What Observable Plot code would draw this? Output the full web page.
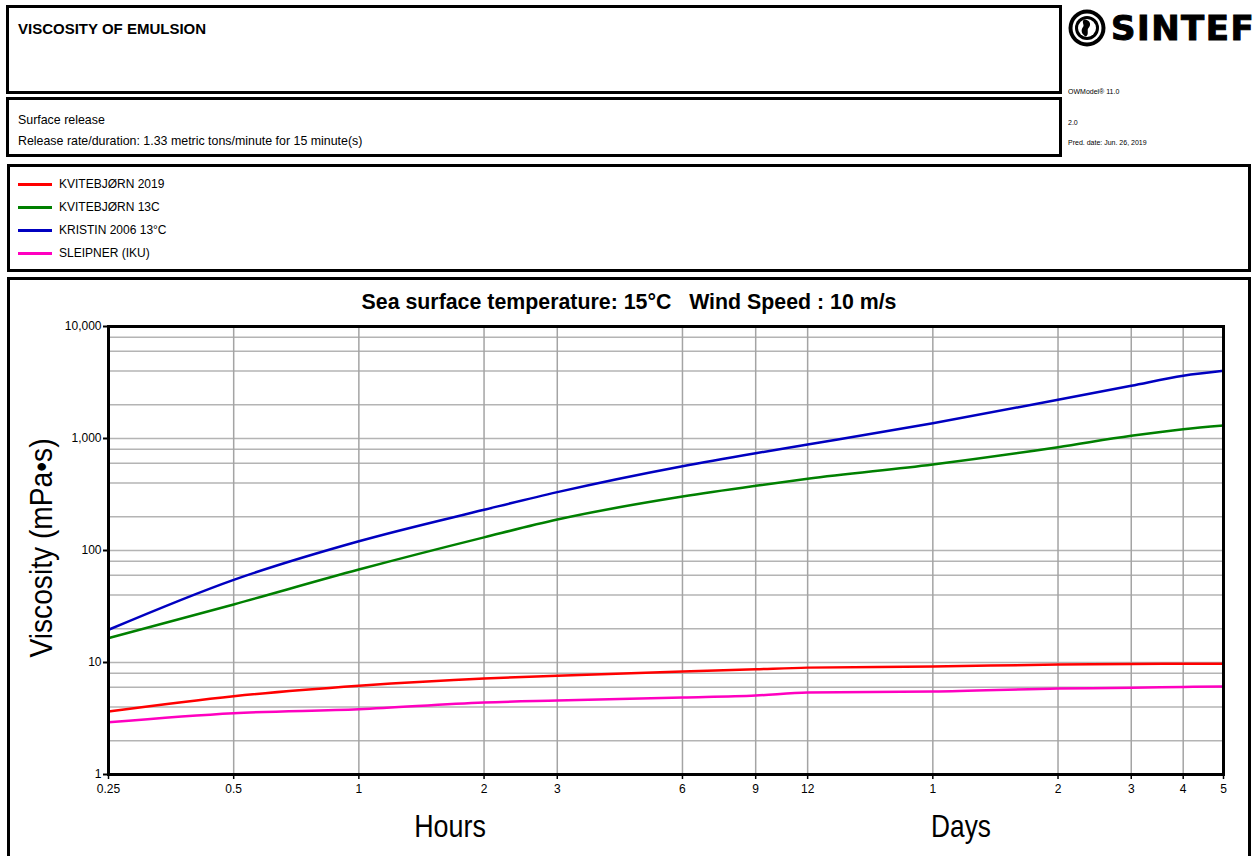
<!DOCTYPE html>
<html><head><meta charset="utf-8">
<script src="https://cdn.jsdelivr.net/npm/d3@7"></script>
<script src="https://cdn.jsdelivr.net/npm/@observablehq/plot@0.6"></script>
<style>
html,body{margin:0;padding:0;background:#fff;width:1254px;height:856px;overflow:hidden;font-family:"Liberation Sans",Arial,sans-serif;color:#000;}
.box{position:absolute;border:3px solid #000;box-sizing:border-box;}
.abs{position:absolute;white-space:pre;line-height:1;}
#chart{position:absolute;left:0;top:280px;}
</style></head>
<body>
<div class="box" style="left:6px;top:5px;width:1056px;height:89px"></div>
<div class="box" style="left:6px;top:97px;width:1056px;height:60px"></div>
<div class="box" style="left:7px;top:164px;width:1244px;height:108px"></div>
<div class="box" style="left:7px;top:277px;width:1244px;height:620px"></div>

<div class="abs" style="left:18px;top:21px;font-size:15px;font-weight:bold;">VISCOSITY OF EMULSION</div>
<div class="abs" style="left:18px;top:114px;font-size:12.4px;">Surface release</div>
<div class="abs" style="left:18px;top:135px;font-size:12.4px;">Release rate/duration: 1.33 metric tons/minute for 15 minute(s)</div>

<svg class="abs" style="left:1067px;top:8px" width="40" height="40" viewBox="0 0 40 40">
  <circle cx="20" cy="20" r="18.5" fill="#000"/>
  <circle cx="20" cy="20" r="14.5" fill="#fff"/>
  <circle cx="20" cy="20" r="12" fill="#000"/>
  <circle cx="20" cy="20" r="9" fill="#fff"/>
  <path d="M17 11.5 C23.5 11.5 24.5 17 21.5 20 C19.5 22 22.5 26 19 28.5 C14.5 26.5 13.5 22 16 19 C18 17 14 14 17 11.5 Z" fill="#000"/>
</svg>
<div class="abs" style="left:1111px;top:11px;font-size:34px;font-weight:900;font-family:'DejaVu Sans','Liberation Sans',sans-serif;letter-spacing:1.5px;-webkit-text-stroke:1px #000;">SINTEF</div>
<div class="abs" style="left:1068px;top:88px;font-size:7px;">OWModel® 11.0</div>
<div class="abs" style="left:1068px;top:119px;font-size:7px;">2.0</div>
<div class="abs" style="left:1068px;top:139px;font-size:7px;">Pred. date: Jun. 26, 2019</div>

<div id="legend"></div>

<div id="chart"></div>

<div class="abs" id="title" style="left:629px;top:291px;font-size:22px;font-weight:bold;transform:translateX(-50%) scaleX(0.97);">Sea surface temperature: 15°C   Wind Speed : 10 m/s</div>
<div class="abs" style="left:41px;top:548px;font-size:32px;transform:translate(-50%,-50%) rotate(-90deg) scaleX(0.88);">Viscosity (mPa•s)</div>
<div class="abs" style="left:450px;top:810px;font-size:32px;transform:translateX(-50%) scaleX(0.84);">Hours</div>
<div class="abs" style="left:961px;top:810px;font-size:32px;transform:translateX(-50%) scaleX(0.82);">Days</div>

<script>
// ---- data ----
const hours = [0.25, 0.5, 1, 2, 3, 6, 9, 12, 24, 48, 72, 96, 120];
const seriesNames = ["KVITEBJØRN 2019", "KVITEBJØRN 13C", "KRISTIN 2006 13°C", "SLEIPNER (IKU)"];
const seriesColors = ["#ff0000", "#008000", "#0000c0", "#ff00c0"];
const kvitebjorn2019 = [3.65, 5.0, 6.2, 7.2, 7.6, 8.3, 8.7, 9.0, 9.2, 9.6, 9.7, 9.75, 9.75];
const kvitebjorn13C = [16.5, 33, 67.6, 131, 189, 303, 378, 437, 586, 836, 1057, 1211, 1306];
const kristin2006 = [19.6, 54.7, 121, 231, 332, 566, 739, 884, 1370, 2215, 2953, 3631, 4020];
const sleipner = [2.93, 3.53, 3.83, 4.4, 4.58, 4.87, 5.07, 5.4, 5.5, 5.86, 5.95, 6.05, 6.1];

const xTickValues = [0.25, 0.5, 1, 2, 3, 6, 9, 12, 24, 48, 72, 96, 120];
const xTickLabels = ["0.25", "0.5", "1", "2", "3", "6", "9", "12", "1", "2", "3", "4", "5"];
const yTickValues = [1, 10, 100, 1000, 10000];
const yTickLabels = ["1", "10", "100", "1,000", "10,000"];
const yGridMultipliers = [1, 2, 4, 6, 8];

// ---- build ----
const seriesValues = [kvitebjorn2019, kvitebjorn13C, kristin2006, sleipner];
const data = seriesValues.flatMap((vals, i) => vals.map((v, j) => ({series: seriesNames[i], hours: hours[j], value: v})));
const yGrid = yTickValues.slice(0, -1).flatMap(d => yGridMultipliers.map(m => d * m)).concat([yTickValues[yTickValues.length - 1]]);
const xTicks = xTickValues.map((v, i) => ({v, label: xTickLabels[i]}));
const yTicks = yTickValues.map((v, i) => ({v, label: yTickLabels[i]}));

// legend
const legend = document.getElementById("legend");
seriesNames.forEach((name, i) => {
  const y = 184 + i * 23;
  const line = document.createElement("div");
  line.style.cssText = `position:absolute;left:18px;top:${y - 1}px;width:34px;height:2.5px;background:${seriesColors[i]};`;
  legend.appendChild(line);
  const t = document.createElement("div");
  t.className = "abs";
  t.style.cssText = `left:59px;top:${y - 6}px;font-size:12px;`;
  t.textContent = name;
  legend.appendChild(t);
});

const plot = Plot.plot({
  width: 1254,
  height: 576,
  marginLeft: 108,
  marginRight: 31,
  marginTop: 46,
  marginBottom: 82,
  style: {background: "transparent", fontFamily: "'Liberation Sans', Arial, sans-serif", fontSize: "12px", overflow: "visible"},
  x: {type: "log", domain: [0.25, 120], axis: null},
  y: {type: "log", domain: [1, 10000], axis: null},
  color: {domain: seriesNames, range: seriesColors},
  marks: [
    Plot.ruleY(yGrid, {stroke: "#b4b4b4", strokeWidth: 1.5}),
    Plot.ruleX(xTickValues, {stroke: "#a4a4a4", strokeWidth: 1.5}),
    Plot.line(data, {x: "hours", y: "value", z: "series", stroke: "series", strokeWidth: 2.5, curve: "monotone-x"}),
    Plot.axisX({ticks: xTickValues, tickFormat: () => "", tickSize: 5, strokeWidth: 1.5, label: null}),
    Plot.text(xTicks, {x: "v", text: "label", frameAnchor: "bottom", dy: 18, fill: "#000", fontSize: 12}),
    Plot.axisY({ticks: yTickValues, tickFormat: () => "", tickSize: 5, strokeWidth: 2, label: null}),
    Plot.text(yTicks, {y: "v", text: "label", frameAnchor: "left", dx: -7, textAnchor: "end", fill: "#000", fontSize: 12}),
    Plot.frame({stroke: "#000", strokeWidth: 3})
  ]
});
document.getElementById("chart").appendChild(plot);
</script>
</body></html>
